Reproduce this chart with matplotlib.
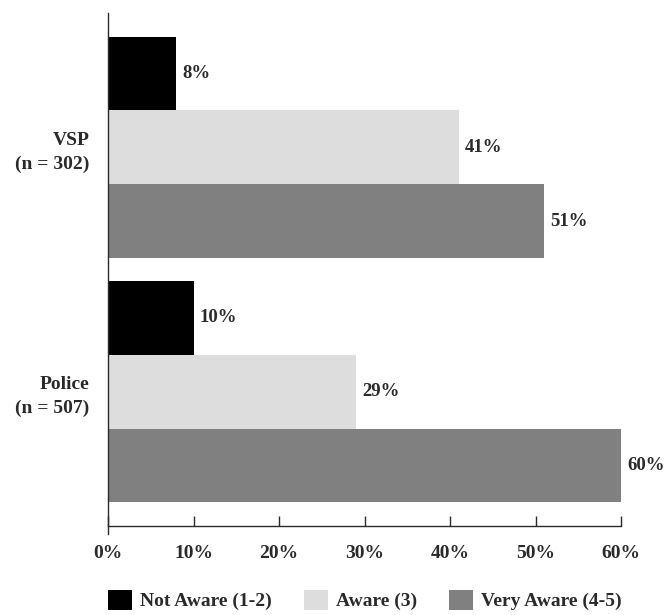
import numpy as np
import matplotlib
matplotlib.use("Agg")
import matplotlib.pyplot as plt

# data
groups = ["VSP\n(n = 302)", "Police\n(n = 507)"]
series = ["Not Aware (1-2)", "Aware (3)", "Very Aware (4-5)"]
not_aware = [8, 10]
aware = [41, 29]
very_aware = [51, 60]
xticks = [0, 10, 20, 30, 40, 50, 60]

colors = ["#000000", "#dddddd", "#808080"]
text_color = "#2a2a2a"

plt.rcParams["font.family"] = ["Liberation Serif", "DejaVu Serif"]
plt.rcParams["font.weight"] = "bold"
plt.rcParams["font.size"] = 14

fig = plt.figure(figsize=(6.65, 6.15), dpi=100)
ax = fig.add_axes([108 / 665, 1 - 526 / 615, 513 / 665, 513 / 615])

centers = np.array([3.3, 0.0])
offsets = [1.0, 0.0, -1.0]
values = [not_aware, aware, very_aware]

for vals, off, col, name in zip(values, offsets, colors, series):
    ypos = centers + off
    ax.barh(ypos, vals, height=1.0, color=col, label=name, linewidth=0)
    for y, v in zip(ypos, vals):
        ax.text(v + 0.7, y, f"{v}%", va="center", ha="left", fontsize=13.5,
                color=text_color, fontweight="bold")

ax.set_xlim(0, 60)
ax.set_ylim(-1.818, 5.118)
ax.set_xticks(xticks)
ax.set_xticklabels([f"{t}%" for t in xticks], color=text_color, fontweight="bold")
ax.tick_params(axis="x", direction="in", length=7, width=1, color=text_color, pad=14)
ax.set_yticks(centers)
ax.set_yticklabels(groups, color=text_color, fontweight="bold", linespacing=1.45)
ax.tick_params(axis="y", length=0, pad=13.5)

for s in ["top", "right"]:
    ax.spines[s].set_visible(False)
for s in ["left", "bottom"]:
    ax.spines[s].set_color(text_color)
    ax.spines[s].set_linewidth(1)
ax.spines["left"].set_bounds(-1.92, 5.118)

fig.legend(loc="center left", bbox_to_anchor=(108 / 665, 1 - 600 / 615),
           ncol=3, frameon=False, borderpad=0, borderaxespad=0,
           handlelength=1.23, handleheight=1.23, handletextpad=0.41,
           columnspacing=1.65, labelcolor=text_color)

fig.savefig("out.png", dpi=100)
